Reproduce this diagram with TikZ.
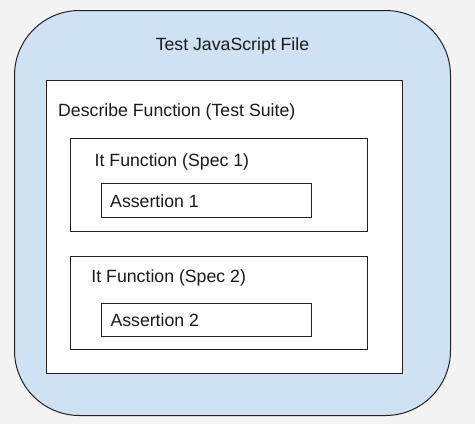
\documentclass[tikz,border=0pt]{standalone}
\usepackage{fontspec}
\setmainfont{Liberation Sans}
\definecolor{bgc}{HTML}{F3F3F3}
\definecolor{bluef}{HTML}{CFE2F3}
\definecolor{linec}{HTML}{222222}
\definecolor{txtc}{HTML}{1A1A1A}
\begin{document}
\begin{tikzpicture}[x=1pt,y=-1pt,
  box/.style={draw=linec,line width=1pt,fill=white,rectangle,inner sep=0pt,anchor=north west},
  lbl/.style={anchor=base west,inner sep=0pt,text=txtc,font=\fontsize{17.7}{20}\selectfont}]
\fill[bgc] (0,0) rectangle (475,424);
\useasboundingbox (0,0) rectangle (475,424);
\node[box,fill=bluef,rounded corners=65pt,minimum width=436pt,minimum height=405pt] (file) at (14,10) {};
\node[box,minimum width=356pt,minimum height=293pt] (suite) at (46,80) {};
\node[box,minimum width=297pt,minimum height=93pt] (spec1) at (70,138) {};
\node[box,minimum width=210pt,minimum height=34pt] (as1) at (101,183) {};
\node[box,minimum width=297pt,minimum height=93pt] (spec2) at (70,256) {};
\node[box,minimum width=210pt,minimum height=33pt] (as2) at (101,303) {};
\node[lbl,anchor=base] (tfile) at (232.5,50) {Test JavaScript File};
\node[lbl] (tsuite) at (58,116.5) {Describe Function (Test Suite)};
\node[lbl] (tspec1) at (94.5,166.5) {It Function (Spec 1)};
\node[lbl] (tas1) at (110,207) {Assertion 1};
\node[lbl] (tspec2) at (91.3,282.5) {It Function (Spec 2)};
\node[lbl] (tas2) at (110.3,326.3) {Assertion 2};
\end{tikzpicture}
\end{document}
